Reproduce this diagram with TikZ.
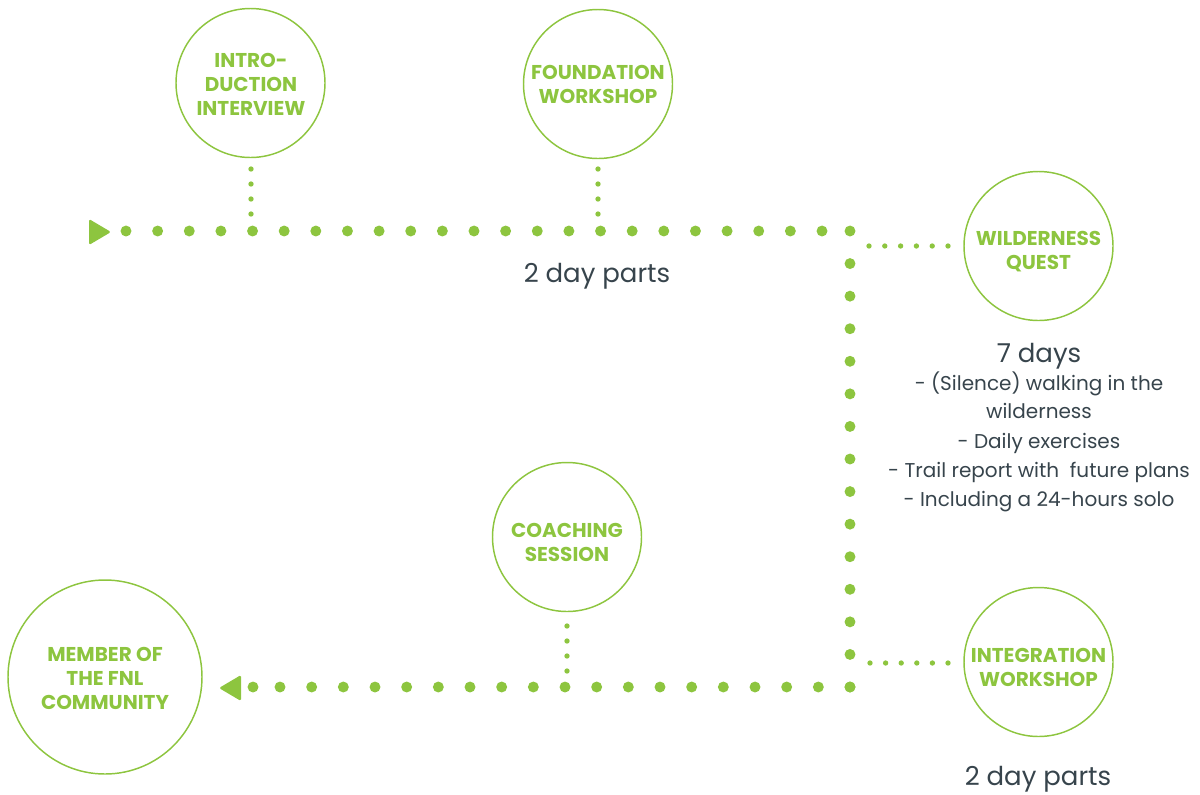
\documentclass[tikz,border=0pt]{standalone}
\usepackage{fontspec}
\setmainfont{Poppins}
\usetikzlibrary{calc}

\definecolor{fnlgreen}{RGB}{141,197,63}
\definecolor{ink}{RGB}{55,68,76}

% a row of evenly spaced dots from one named point to another
\newcommand{\dotrun}[4]{% from, to, steps, radius
  \foreach \i in {0,...,#3}
    \fill[fnlgreen] ($(#1)!\i/#3!(#2)$) circle (#4);
}

\begin{document}
\begin{tikzpicture}[x=0.75pt,y=-0.75pt,
  stage/.style={circle,draw=fnlgreen,line width=1.1pt,inner sep=0pt,minimum size=111.75pt},
  bigstage/.style={stage,minimum size=145.5pt},
  stagetext/.style={text=fnlgreen,font=\bfseries\fontsize{15}{18}\selectfont,align=center,inner sep=0pt},
  note/.style={text=ink,font=\fontsize{19.5}{24}\selectfont,inner sep=0pt,anchor=base},
  bullet/.style={text=ink,font=\fontsize{15}{21.75}\selectfont,inner sep=0pt,anchor=base}]
\useasboundingbox (0,0) rectangle (1200,794);

% stages
\node[stage] (intro) at (250.5,83) {};
\node[stage] (found) at (598,84) {};
\node[stage] (wild) at (1038.5,246) {};
\node[stage] (coach) at (567,537) {};
\node[stage] (integ) at (1038.5,662) {};
\node[bigstage] (member) at (105,677) {};

\node[stagetext] (introtxt) at (251,84) {INTRO-\\DUCTION\\INTERVIEW};
\node[stagetext] (foundtxt) at (598,84) {FOUNDATION\\WORKSHOP};
\node[stagetext] (wildtxt) at (1038.5,252) {WILDERNESS\\QUEST};
\node[stagetext] (coachtxt) at (567,542) {COACHING\\SESSION};
\node[stagetext] (integtxt) at (1038.5,667) {INTEGRATION\\WORKSHOP};
\node[stagetext] (membertxt) at (105,678) {MEMBER OF\\THE FNL\\COMMUNITY};

% main route
\coordinate (t0) at (126,231);
\coordinate (t1) at (822,231);
\coordinate (c1) at (850,231);
\coordinate (c2) at (850,687);
\coordinate (b1) at (280,687);
\coordinate (b0) at (253,687);

\fill[fnlgreen,rounded corners=1.2pt] (89,219) -- (111,232) -- (89,245) -- cycle;
\dotrun{t0}{t1}{22}{4.1pt}
\dotrun{c1}{c2}{14}{4.1pt}
\dotrun{c2}{b1}{18}{4.1pt}
\fill[fnlgreen] (b0) circle (4.1pt);
\fill[fnlgreen,rounded corners=1.2pt] (241,675) -- (219,688) -- (241,701) -- cycle;

% stems from the stages to the route
\coordinate (s1a) at (251,169); \coordinate (s1b) at (251,214);
\coordinate (s2a) at (598,169); \coordinate (s2b) at (598,214);
\coordinate (s3a) at (869,246); \coordinate (s3b) at (948,246);
\coordinate (s4a) at (870,663); \coordinate (s4b) at (948,663);
\coordinate (s5a) at (567,626); \coordinate (s5b) at (567,671);
\dotrun{s1a}{s1b}{3}{2pt}
\dotrun{s2a}{s2b}{3}{2pt}
\dotrun{s3a}{s3b}{5}{2pt}
\dotrun{s4a}{s4b}{5}{2pt}
\dotrun{s5a}{s5b}{3}{2pt}

% durations and contents
\node[note] (d1) at (597,282) {2 day parts};
\node[note] (d2) at (1039,362) {7 days};
\node[bullet] (l1) at (1039,390) {- (Silence) walking in the};
\node[bullet] (l2) at (1039,418) {wilderness};
\node[bullet] (l3) at (1039,448) {- Daily exercises};
\node[bullet] (l4) at (1039,477) {- Trail report with\ \ future plans};
\node[bullet] (l5) at (1039,506) {- Including a 24-hours solo};
\node[note] (d3) at (1038,785) {2 day parts};
\end{tikzpicture}
\end{document}
